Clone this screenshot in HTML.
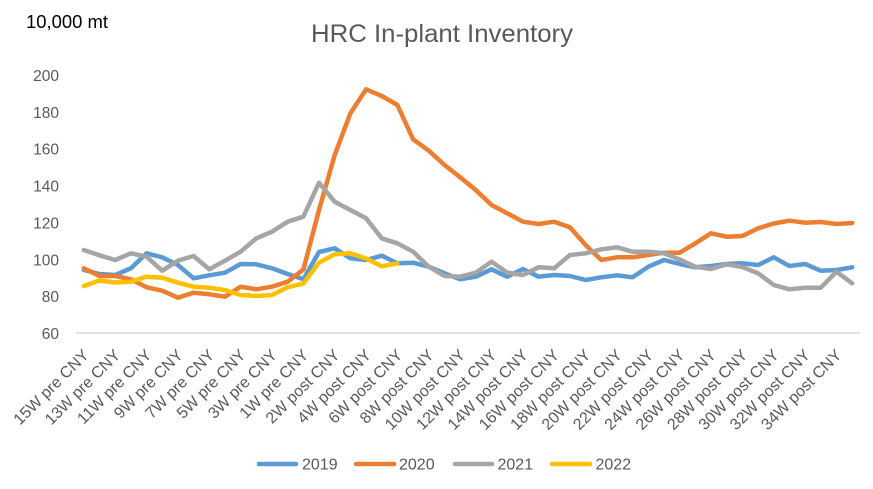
<!DOCTYPE html>
<html>
<head>
<meta charset="utf-8">
<style>
  html,body{margin:0;padding:0;background:#fff;}
  svg{display:block;}
  text{font-family:"Liberation Sans", sans-serif; fill:#595959;}
</style>
</head>
<body>
<svg width="873" height="489" viewBox="0 0 873 489" xmlns="http://www.w3.org/2000/svg">
  <rect width="873" height="489" fill="#fff"/>
  <!-- title -->
  <text x="442" y="42" font-size="25" text-anchor="middle" textLength="262" lengthAdjust="spacingAndGlyphs">HRC In-plant Inventory</text>
  <text x="26" y="28" font-size="18" style="fill:#000" textLength="82" lengthAdjust="spacingAndGlyphs">10,000 mt</text>

  <!-- y tick labels -->
  <g font-size="15.5" text-anchor="end">
    <text x="59" y="81">200</text>
    <text x="59" y="118">180</text>
    <text x="59" y="154.7">160</text>
    <text x="59" y="191.6">140</text>
    <text x="59" y="228.4">120</text>
    <text x="59" y="265.3">100</text>
    <text x="59" y="302.1">80</text>
    <text x="59" y="339">60</text>
  </g>

  <!-- axis line -->
  <line x1="76" y1="333" x2="860" y2="333" stroke="#d9d9d9" stroke-width="1.6"/>

  <!-- x labels -->
  <g font-size="16" text-anchor="end">
    <text transform="translate(89.8,356) rotate(-45)">15W pre CNY</text>
    <text transform="translate(121.2,356) rotate(-45)">13W pre CNY</text>
    <text transform="translate(152.6,356) rotate(-45)">11W pre CNY</text>
    <text transform="translate(183.9,356) rotate(-45)">9W pre CNY</text>
    <text transform="translate(215.3,356) rotate(-45)">7W pre CNY</text>
    <text transform="translate(246.6,356) rotate(-45)">5W pre CNY</text>
    <text transform="translate(278.0,356) rotate(-45)">3W pre CNY</text>
    <text transform="translate(309.4,356) rotate(-45)">1W pre CNY</text>
    <text transform="translate(340.7,356) rotate(-45)">2W post CNY</text>
    <text transform="translate(372.1,356) rotate(-45)">4W post CNY</text>
    <text transform="translate(403.4,356) rotate(-45)">6W post CNY</text>
    <text transform="translate(434.8,356) rotate(-45)">8W post CNY</text>
    <text transform="translate(466.2,356) rotate(-45)">10W post CNY</text>
    <text transform="translate(497.5,356) rotate(-45)">12W post CNY</text>
    <text transform="translate(528.9,356) rotate(-45)">14W post CNY</text>
    <text transform="translate(560.2,356) rotate(-45)">16W post CNY</text>
    <text transform="translate(591.6,356) rotate(-45)">18W post CNY</text>
    <text transform="translate(623.0,356) rotate(-45)">20W post CNY</text>
    <text transform="translate(654.3,356) rotate(-45)">22W post CNY</text>
    <text transform="translate(685.7,356) rotate(-45)">24W post CNY</text>
    <text transform="translate(717.0,356) rotate(-45)">26W post CNY</text>
    <text transform="translate(748.4,356) rotate(-45)">28W post CNY</text>
    <text transform="translate(779.8,356) rotate(-45)">30W post CNY</text>
    <text transform="translate(811.1,356) rotate(-45)">32W post CNY</text>
    <text transform="translate(842.5,356) rotate(-45)">34W post CNY</text>
  </g>

  <!-- series -->
  <g fill="none" stroke-width="4.5" stroke-linejoin="round" stroke-linecap="round">
    <polyline stroke="#5B9BD5" points="83.8,270 99.5,274 115.2,275 130.9,268.3 146.6,253.3 162.2,257.3 177.9,265 193.6,278.3 209.3,275.3 225.0,272.7 240.6,264 256.3,264.3 272.0,268.3 287.7,274 303.4,279.3 319.0,252 334.7,248.3 350.4,258.3 366.1,260 381.8,255.7 397.4,263.3 413.1,262.7 428.8,266.7 444.5,273.3 460.2,279.3 475.8,276.7 491.5,269.3 507.2,276.7 522.9,269 538.6,276.7 554.2,275 569.9,276 585.6,280 601.3,277.3 617.0,275.3 632.6,277.3 648.3,266.7 664.0,260 679.7,264 695.4,267.3 711.0,266 726.7,264 742.4,263.3 758.1,265 773.8,257.3 789.4,266 805.1,264 820.8,270.7 836.5,270 852.2,267.3"/>
    <polyline stroke="#ED7D31" points="83.8,268.3 99.5,276 115.2,276 130.9,279.3 146.6,287.3 162.2,290.7 177.9,297.7 193.6,292.7 209.3,294.3 225.0,296.7 240.6,286.7 256.3,289.3 272.0,286.7 287.7,281.7 303.4,269.5 319.0,210 334.7,155 350.4,113.3 366.1,89.3 381.8,96 397.4,105 413.1,139.3 428.8,150.7 444.5,165 460.2,177.3 475.8,190 491.5,205 507.2,213.3 522.9,221.7 538.6,224 554.2,221.7 569.9,227.3 585.6,245 601.3,260 617.0,257.3 632.6,257.3 648.3,255 664.0,252.7 679.7,252.7 695.4,243.3 711.0,233.3 726.7,236.7 742.4,236 758.1,228.3 773.8,223.5 789.4,220.7 805.1,222.7 820.8,222 836.5,224 852.2,223"/>
    <polyline stroke="#A5A5A5" points="83.8,250 99.5,255.3 115.2,260 130.9,253.3 146.6,256.7 162.2,270.7 177.9,260.7 193.6,256 209.3,269.3 225.0,260.7 240.6,251.7 256.3,238.3 272.0,231.7 287.7,221.7 303.4,216.7 319.0,182.7 334.7,201.7 350.4,210 366.1,218.3 381.8,238.3 397.4,243.3 413.1,251.7 428.8,266.7 444.5,276 460.2,276.7 475.8,272.7 491.5,261.7 507.2,272.7 522.9,275 538.6,267.3 554.2,268.3 569.9,255 585.6,253.3 601.3,249.3 617.0,247.3 632.6,251.7 648.3,251.7 664.0,253.3 679.7,259.5 695.4,266.7 711.0,269 726.7,264.3 742.4,267 758.1,273.3 773.8,285 789.4,289.3 805.1,287.7 820.8,287.7 836.5,271.7 852.2,283.3"/>
    <polyline stroke="#FFC000" points="83.8,286 99.5,280.5 115.2,282.5 130.9,281.7 146.6,276.7 162.2,277.7 177.9,282.7 193.6,286.7 209.3,287.7 225.0,290 240.6,295 256.3,296 272.0,295 287.7,287.3 303.4,283.5 319.0,262.7 334.7,254.3 350.4,253.3 366.1,258.5 381.8,266.3 397.4,263.3"/>
  </g>

  <!-- legend -->
  <g stroke-width="4.5" stroke-linecap="round">
    <line x1="259" y1="464" x2="296" y2="464" stroke="#5B9BD5"/>
    <line x1="356" y1="464" x2="394" y2="464" stroke="#ED7D31"/>
    <line x1="455" y1="464" x2="492" y2="464" stroke="#A5A5A5"/>
    <line x1="552" y1="464" x2="590" y2="464" stroke="#FFC000"/>
  </g>
  <g font-size="16">
    <text x="302" y="469.5">2019</text>
    <text x="399" y="469.5">2020</text>
    <text x="497.5" y="469.5">2021</text>
    <text x="595.5" y="469.5">2022</text>
  </g>
</svg>
</body>
</html>
